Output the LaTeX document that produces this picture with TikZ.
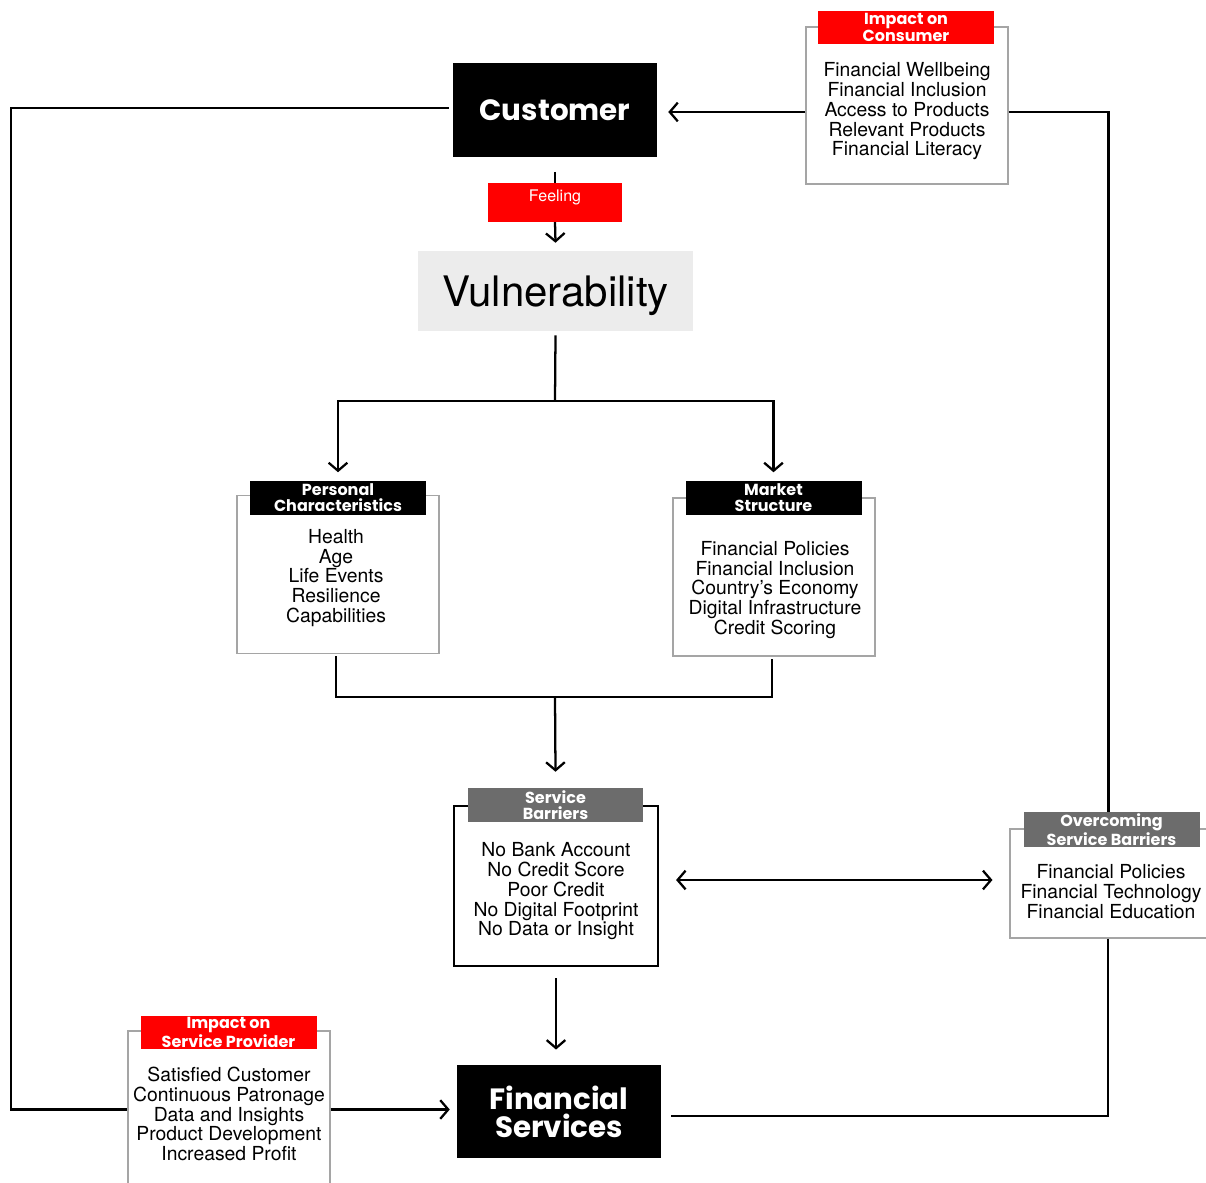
\documentclass[tikz,border=0pt]{standalone}
\usepackage{fontspec}
\setmainfont{TeX Gyre Heros}
\newfontfamily\headfont{Poppins}
\usepackage{tikz}
\usetikzlibrary{arrows.meta,calc}
\usepackage{xcolor}
\definecolor{tagred}{RGB}{255,0,0}
\definecolor{taggray}{RGB}{108,108,108}
\definecolor{boxgray}{RGB}{165,165,165}
\definecolor{vulgray}{RGB}{236,236,236}

\begin{document}
\begin{tikzpicture}[x=0.75pt,y=-0.75pt]
        %styles
        \tikzstyle{mainbox}=[rectangle, fill=black, text=white, align=center, minimum width=153pt, minimum height=70pt, font=\headfont\bfseries\fontsize{22}{21}\selectfont]
        \tikzstyle{redtag}=[rectangle, fill=tagred, text=white, align=center, minimum width=132pt, minimum height=25.5pt, inner sep=1pt, font=\headfont\bfseries\fontsize{12}{11.5}\selectfont]
        \tikzstyle{blacktag}=[redtag, fill=black]
        \tikzstyle{graytag}=[redtag, fill=taggray]
        \tikzstyle{listbox}=[rectangle, draw=boxgray, line width=0.8pt, minimum width=151.5pt]
        \tikzstyle{listtext}=[align=center, font=\fontsize{14.5}{14.8}\selectfont]
        \tikzstyle{link}=[line width=1.7pt]
        \tikzstyle{arr}=[link, -{Straight Barb[length=6pt,width=14pt]}]
        \tikzstyle{arr2}=[link, {Straight Barb[length=6pt,width=14pt]}-{Straight Barb[length=6pt,width=14pt]}]

        \useasboundingbox (0,0) rectangle (1206,1182);

        %nodes
        \node[mainbox] (cust) at (555,110) {Customer};
        \node[redtag, minimum width=100.5pt, minimum height=29pt, inner ysep=3pt, text height=11pt, text depth=12pt, font=\fontsize{12}{13}\selectfont] (feel) at (555,202.5) {Feeling};
        \node[rectangle, fill=vulgray, minimum width=206pt, minimum height=60pt, text depth=0pt, font=\fontsize{31.5}{32}\selectfont] (vul) at (555.5,291) {Vulnerability};

        \node[listbox, minimum height=119pt] (pcbox) at (338,574.5) {};
        \node[listtext] (pctext) at (336,578) {Health\\Age\\Life Events\\Resilience\\Capabilities};
        \node[blacktag] (pctag) at (338,497.5) {Personal\\Characteristics};

        \node[listbox, minimum height=118.5pt] (msbox) at (774,577) {};
        \node[listtext] (mstext) at (775,590) {Financial Policies\\Financial Inclusion\\Country’s Economy\\Digital Infrastructure\\Credit Scoring};
        \node[blacktag] (mstag) at (773.5,497.5) {Market\\Structure};

        \node[listbox, draw=black, line width=1.6pt, minimum width=153pt, minimum height=120pt] (sbbox) at (556,886) {};
        \node[listtext] (sbtext) at (556,891.5) {No Bank Account\\No Credit Score\\Poor Credit\\No Digital Footprint\\No Data or Insight};
        \node[graytag, minimum width=131pt] (sbtag) at (555.5,805) {Service\\Barriers};

        \node[mainbox] (fs) at (559,1111.5) {Financial\\Services};

        \node[listbox, minimum height=81.75pt] (osbbox) at (1111,883.5) {};
        \node[listtext] (osbtext) at (1111,891.5) {Financial Policies\\Financial Technology\\Financial Education};
        \node[graytag] (osbtag) at (1111.5,829.5) {Overcoming\\Service Barriers};

        \node[listbox, minimum height=117.75pt] (icbox) at (907,105.5) {};
        \node[listtext] (ictext) at (907,111.5) {Financial Wellbeing\\Financial Inclusion\\Access to Products\\Relevant Products\\Financial Literacy};
        \node[redtag, minimum height=24.75pt] (ictag) at (906,27.5) {Impact on\\Consumer};

        \node[listbox, minimum height=117.75pt] (ispbox) at (229,1109.5) {};
        \node[listtext] (isptext) at (229,1114) {Satisfied Customer\\Continuous Patronage\\Data and Insights\\Product Development\\Increased Profit};
        \node[redtag, minimum height=24.75pt] (isptag) at (228.5,1032.5) {Impact on\\Service Provider};

        \coordinate (split) at (555,401);
        \coordinate (merge) at (555,697);
        \coordinate (leftrail) at (11,108);

        %arrows
        \draw[link] ($(cust.south)+(0,15)$) -- (feel.north);
        \draw[arr] (feel.south) -- ($(vul.north)+(0,-8)$);
        \draw[link] ($(vul.south)+(0,4)$) -- (split);
        \draw[arr] (split) -| ($(pctag.north)+(0,-8)$);
        \draw[arr] (split) -| ($(mstag.north)+(0,-8)$);

        \draw[link] ($(pcbox.south)+(-2,2)$) |- (merge) -| ($(msbox.south)+(-2,2)$);
        \draw[arr] (merge) -- ($(sbtag.north)+(0,-16)$);
        \draw[arr] ($(sbbox.south)+(0,11)$) -- ($(sbbox.south |- fs.north)+(0,-15)$);

        \draw[arr2] ($(sbbox.east)+(17,-6)$) -- ($(sbbox.east -| osbbox.west)+(-17,-6)$);

        \draw[arr] ($(cust.east -| icbox.west)+(0,2)$) -- ($(cust.east)+(11,2)$);
        \draw[link] ($(cust.east -| icbox.east)+(0,2)$) -| ($(osbtag.north)+(-3,0)$);
        \draw[link] ($(osbbox.south)+(-3,0)$) |- ($(fs.east)+(10,4.5)$);

        \draw[link] ($(cust.west)+(-4,-2)$) -- ($(cust.west -| leftrail)+(0,-2)$) |- (ispbox.west);
        \draw[arr] (ispbox.east) -- ($(ispbox.east -| fs.west)+(-7,0)$);

\end{tikzpicture}
\end{document}
